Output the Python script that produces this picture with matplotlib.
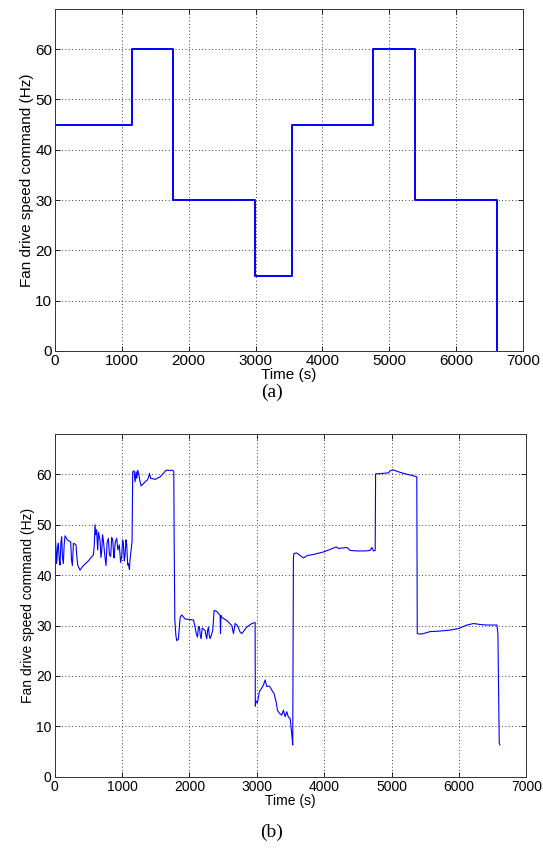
import numpy as np
import matplotlib
matplotlib.use('Agg')
import matplotlib.pyplot as plt

plt.rcParams['font.family'] = ['Liberation Sans', 'DejaVu Sans']

# (a) speed command steps
step_t = [0, 1150, 1770, 2985, 3545, 4760, 5378, 6605]
step_v = [45, 60, 30, 15, 45, 60, 30, 0]

meas_t = [0, 15, 32, 45, 57, 70, 82, 95, 106, 118, 131, 143, 156, 175, 190, 215, 240, 252,
          265, 280, 300, 319, 332, 344, 378, 428, 500, 576, 590, 601, 612, 625, 640, 652,
          675, 688, 700, 712, 724, 745, 764, 780, 798, 815, 833, 848, 863, 875, 883, 900,
          922, 940, 961, 980, 996, 1010, 1021, 1035, 1046, 1060, 1071, 1085, 1095, 1110,
          1120, 1130, 1150, 1160, 1180, 1195, 1210, 1220, 1235, 1249, 1265, 1284, 1343,
          1378, 1395, 1408, 1427, 1492, 1566, 1615, 1655, 1754, 1769, 1775, 1784, 1800,
          1813, 1838, 1863, 1887, 1937, 2061, 2085, 2100, 2120, 2135, 2150, 2162, 2174,
          2190, 2209, 2234, 2246, 2258, 2270, 2283, 2295, 2308, 2347, 2367, 2406, 2456,
          2462, 2468, 2481, 2555, 2629, 2654, 2679, 2713, 2753, 2778, 2852, 2926, 2975,
          2978, 2990, 3010, 3039, 3074, 3099, 3123, 3148, 3187, 3222, 3256, 3286, 3306,
          3336, 3370, 3395, 3420, 3444, 3469, 3494, 3518, 3533, 3543, 3550, 3593, 3642,
          3692, 3751, 3840, 3989, 4088, 4177, 4211, 4286, 4335, 4385, 4484, 4607, 4681,
          4706, 4731, 4756, 4762, 4780, 4879, 4953, 4978, 5017, 5101, 5200, 5324, 5373,
          5380, 5423, 5472, 5571, 5720, 5868, 5992, 6116, 6215, 6314, 6413, 6561, 6576,
          6596, 6606]
meas_v = [47.3, 47.0, 42.3, 45.5, 46.3, 43.0, 42.0, 46.5, 47.6, 43.5, 42.3, 46.0, 47.8,
          47.4, 47.0, 46.8, 46.6, 43.0, 41.9, 46.3, 46.2, 46.0, 43.5, 42.0, 41.0, 41.9,
          42.8, 44.0, 46.0, 50.0, 48.0, 49.0, 45.0, 48.5, 47.0, 43.5, 44.7, 48.0, 47.0,
          44.0, 41.9, 46.5, 47.3, 44.0, 43.7, 47.5, 47.0, 44.5, 43.4, 46.5, 47.3, 45.0,
          46.0, 42.5, 43.7, 47.0, 46.3, 42.8, 44.0, 47.0, 46.0, 42.0, 42.3, 41.1, 43.0,
          44.3, 46.6, 60.5, 60.7, 58.5, 60.5, 59.2, 60.8, 60.1, 58.8, 57.7, 58.5, 58.9,
          59.4, 60.2, 59.2, 59.0, 59.5, 60.2, 60.8, 60.8, 60.5, 46.0, 31.2, 28.0, 27.0,
          27.3, 31.6, 32.1, 31.3, 31.1, 29.7, 28.5, 27.7, 29.8, 29.7, 28.0, 27.4, 29.5,
          29.3, 29.0, 28.0, 27.4, 29.0, 29.7, 28.0, 27.4, 29.0, 33.0, 32.8, 32.0, 28.4,
          32.0, 31.6, 31.0, 30.0, 28.4, 30.4, 30.0, 28.7, 28.4, 29.7, 30.4, 30.6, 14.0,
          15.0, 14.7, 16.9, 17.6, 18.2, 19.2, 17.9, 18.0, 17.2, 16.5, 14.9, 13.2, 12.6,
          12.2, 13.2, 11.9, 12.9, 11.8, 11.6, 8.6, 6.3, 43.3, 44.3, 44.4, 43.9, 43.4,
          43.9, 44.1, 44.6, 45.1, 45.6, 45.3, 45.4, 45.5, 44.9, 44.8, 44.8, 44.9, 45.5,
          44.8, 44.9, 60.1, 60.1, 60.2, 60.3, 60.7, 60.9, 60.5, 60.1, 59.7, 59.5, 28.4,
          28.3, 28.4, 28.8, 28.9, 29.1, 29.4, 30.1, 30.4, 30.2, 30.1, 30.1, 28.4, 6.6,
          6.3]

xticks = [0, 1000, 2000, 3000, 4000, 5000, 6000, 7000]
yticks = [0, 10, 20, 30, 40, 50, 60]
xlab = 'Time (s)'
ylab = 'Fan drive speed command (Hz)'

fig = plt.figure(figsize=(5.43, 8.5), dpi=100)
ax1 = fig.add_axes([0.1013, 0.5871, 0.8619, 0.4024])
ax2 = fig.add_axes([0.1004, 0.0862, 0.8692, 0.4032])

ax1.step(step_t, step_v, where='post', color='#0000ff', lw=1.4)
ax2.plot(meas_t, meas_v, color='#0000ff', lw=0.8)

for ax, fs in ((ax1, 11), (ax2, 10)):
    ax.set_xlim(0, 7000)
    ax.set_ylim(0, 68)
    ax.set_xticks(xticks)
    ax.set_yticks(yticks)
    ax.grid(True, linestyle=(0, (1, 3)), color='black', lw=0.6)
    ax.tick_params(direction='in', length=3.5, top=True, right=True, labelsize=fs,
                   width=0.6, pad=2)
    for s in ax.spines.values():
        s.set_linewidth(0.7)
        s.set_color('#333333')
    ax.set_xlabel(xlab, fontsize=fs, labelpad=0)
    ax.set_ylabel(ylab, fontsize=fs, labelpad=1)

fig.text(0.5, 1 - 392 / 850, '(a)', ha='center', va='center', fontsize=14,
         family=['Liberation Serif', 'DejaVu Serif'])
fig.text(0.5, 1 - 832 / 850, '(b)', ha='center', va='center', fontsize=14,
         family=['Liberation Serif', 'DejaVu Serif'])

fig.savefig('out.png', dpi=100)
